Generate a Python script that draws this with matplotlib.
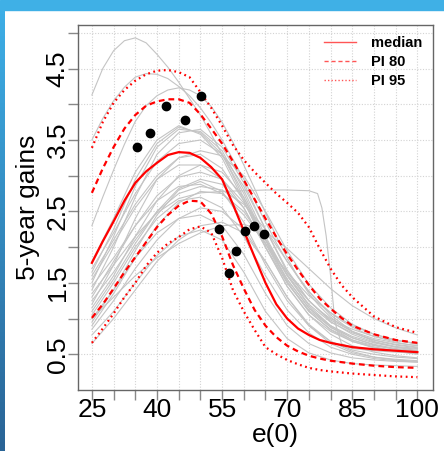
import matplotlib
matplotlib.use("Agg")
import matplotlib.pyplot as plt
import numpy as np
from matplotlib.lines import Line2D
from matplotlib.patches import Rectangle
from matplotlib.colors import LinearSegmentedColormap

plt.rcParams['font.family'] = ['Liberation Sans', 'DejaVu Sans']

# life expectancy grid for the projection summaries
e0_fine = [25, 27.5, 30, 32.5, 35, 37.5, 40, 42.5, 45, 47.5, 50, 52.5, 55, 57.5,
           60, 62.5, 65, 67.5, 70, 72.5, 75, 77.5, 80, 82.5, 85, 90, 95, 100]

median = [1.78, 2.08, 2.36, 2.65, 2.90, 3.06, 3.18, 3.29, 3.33, 3.32, 3.25, 3.12, 2.95, 2.60,
          2.23, 1.86, 1.50, 1.20, 1.00, 0.86, 0.77, 0.70, 0.66, 0.63, 0.60, 0.57, 0.55, 0.53]
pi80_upper = [2.76, 3.10, 3.40, 3.66, 3.85, 3.98, 4.04, 4.07, 4.07, 4.02, 3.86, 3.66, 3.45, 3.20,
              2.94, 2.67, 2.40, 2.14, 1.90, 1.68, 1.47, 1.28, 1.14, 1.01, 0.90, 0.78, 0.70, 0.66]
pi80_lower = [1.01, 1.20, 1.42, 1.65, 1.86, 2.07, 2.28, 2.45, 2.58, 2.65, 2.64, 2.47, 2.15, 1.75,
              1.42, 1.12, 0.90, 0.74, 0.62, 0.54, 0.48, 0.44, 0.41, 0.39, 0.37, 0.34, 0.32, 0.31]
pi95_upper = [3.39, 3.75, 4.02, 4.20, 4.33, 4.42, 4.47, 4.48, 4.45, 4.38, 4.17, 3.95, 3.70, 3.43,
              3.22, 3.05, 2.90, 2.75, 2.62, 2.48, 2.28, 1.98, 1.70, 1.47, 1.30, 1.03, 0.88, 0.80]
pi95_lower = [0.66, 0.86, 1.07, 1.30, 1.50, 1.74, 1.92, 2.05, 2.14, 2.25, 2.29, 2.20, 1.85, 1.40,
              1.10, 0.84, 0.60, 0.50, 0.42, 0.36, 0.31, 0.28, 0.26, 0.245, 0.23, 0.21, 0.19, 0.18]

# the few high trajectories that stand apart, read on a 2.5 step
high_e0 = [25, 27.5, 30, 32.5, 35, 37.5, 40, 42.5, 45, 47.5, 50, 52.5, 55, 57.5, 60, 62.5,
           65, 67.5, 70, 72.5, 75, 77.5, 80, 82.5, 85, 87.5, 90, 92.5, 95, 97.5, 100]
high_trajectories = [
    [4.13, 4.50, 4.75, 4.89, 4.93, 4.86, 4.70, 4.52, 4.31, 4.08, 3.85, 3.58, 3.30, 3.00, 2.69, 2.38,
     2.10, 1.84, 1.62, 1.42, 1.25, 1.11, 1.00, 0.92, 0.85, 0.80, 0.75, 0.72, 0.69, 0.67, 0.65],
    [3.50, 3.80, 4.05, 4.24, 4.38, 4.43, 4.42, 4.36, 4.25, 4.12, 3.95, 3.74, 3.50, 3.23, 2.95, 2.65,
     2.35, 2.06, 1.80, 1.58, 1.38, 1.22, 1.08, 0.97, 0.88, 0.81, 0.75, 0.71, 0.67, 0.64, 0.62],
    [2.30, 2.70, 3.08, 3.44, 3.76, 3.98, 4.12, 4.20, 4.23, 4.20, 4.12, 3.97, 3.75, 3.47, 3.15, 2.82,
     2.48, 2.15, 1.85, 1.58, 1.35, 1.17, 1.02, 0.91, 0.82, 0.75, 0.70, 0.66, 0.63, 0.61, 0.59],
]

# the bulk of the sampled trajectories (grey), read on a 5 step
traj_e0 = [25, 30, 35, 40, 45, 50, 55, 60, 65, 70, 75, 80, 85, 90, 95, 100]
trajectories = [
    [1.65, 2.25, 2.95, 3.45, 3.68, 3.60, 3.30, 2.75, 2.10, 1.55, 1.15, 0.90, 0.75, 0.66, 0.60, 0.57],
    [1.50, 2.15, 2.85, 3.40, 3.65, 3.62, 3.35, 2.80, 2.15, 1.60, 1.20, 0.95, 0.80, 0.70, 0.64, 0.60],
    [1.80, 2.40, 3.05, 3.50, 3.70, 3.58, 3.25, 2.65, 2.00, 1.45, 1.05, 0.82, 0.68, 0.60, 0.55, 0.52],
    [1.40, 2.00, 2.70, 3.30, 3.60, 3.65, 3.40, 2.90, 2.25, 1.65, 1.25, 0.98, 0.82, 0.72, 0.66, 0.62],
    [1.20, 1.75, 2.40, 2.95, 3.25, 3.30, 3.10, 2.65, 2.05, 1.50, 1.10, 0.85, 0.70, 0.62, 0.57, 0.54],
    [1.55, 2.05, 2.55, 2.95, 3.15, 3.15, 2.95, 2.55, 2.00, 1.50, 1.12, 0.88, 0.73, 0.64, 0.58, 0.55],
    [1.30, 1.80, 2.30, 2.72, 2.98, 3.05, 2.95, 2.62, 2.12, 1.60, 1.18, 0.90, 0.73, 0.63, 0.57, 0.53],
    [1.10, 1.55, 2.05, 2.50, 2.82, 2.95, 2.88, 2.55, 2.00, 1.45, 1.05, 0.78, 0.62, 0.53, 0.48, 0.45],
    [0.95, 1.40, 1.95, 2.45, 2.80, 2.92, 2.78, 2.35, 1.75, 1.25, 0.90, 0.68, 0.56, 0.50, 0.46, 0.44],
    [1.25, 1.65, 2.10, 2.50, 2.75, 2.85, 2.80, 2.60, 2.25, 1.80, 1.38, 1.05, 0.82, 0.68, 0.60, 0.55],
    [0.85, 1.25, 1.70, 2.10, 2.40, 2.55, 2.50, 2.25, 1.80, 1.30, 0.92, 0.68, 0.54, 0.46, 0.42, 0.40],
    [0.77, 1.10, 1.50, 1.88, 2.15, 2.24, 2.10, 1.65, 1.10, 0.72, 0.52, 0.42, 0.37, 0.35, 0.34, 0.33],
    [1.00, 1.40, 1.85, 2.20, 2.40, 2.45, 2.30, 1.90, 1.35, 0.90, 0.65, 0.52, 0.45, 0.42, 0.40, 0.39],
    [1.00, 1.30, 1.60, 1.85, 2.05, 2.20, 2.30, 2.32, 2.22, 1.98, 1.70, 1.42, 1.18, 1.00, 0.87, 0.77],
    [0.65, 1.00, 1.40, 1.80, 2.10, 2.30, 2.35, 2.20, 1.80, 1.30, 0.90, 0.65, 0.52, 0.46, 0.43, 0.41],
    [1.60, 2.10, 2.60, 3.00, 3.25, 3.35, 3.28, 3.00, 2.50, 1.95, 1.48, 1.15, 0.92, 0.78, 0.70, 0.64],
    [1.15, 1.60, 2.15, 2.65, 3.00, 3.15, 3.05, 2.70, 2.10, 1.52, 1.10, 0.84, 0.68, 0.59, 0.54, 0.51],
    [1.70, 2.20, 2.75, 3.20, 3.45, 3.50, 3.30, 2.85, 2.25, 1.68, 1.25, 0.96, 0.78, 0.67, 0.61, 0.58],
    [0.90, 1.35, 1.85, 2.30, 2.62, 2.78, 2.75, 2.50, 2.05, 1.55, 1.15, 0.88, 0.70, 0.60, 0.54, 0.50],
    [1.45, 1.85, 2.30, 2.65, 2.85, 2.88, 2.75, 2.45, 2.05, 1.65, 1.32, 1.08, 0.90, 0.78, 0.70, 0.65],
    [1.05, 1.50, 2.00, 2.40, 2.65, 2.70, 2.55, 2.15, 1.60, 1.12, 0.80, 0.60, 0.50, 0.44, 0.41, 0.39],
]
# one trajectory with a long plateau and a sharp drop
plateau_e0 = [25, 30, 35, 40, 45, 50, 55, 60, 65, 70, 75, 77, 78, 79, 80, 81, 82.5, 85, 90, 95, 100]
plateau_gain = [1.35, 1.75, 2.15, 2.48, 2.68, 2.76, 2.78, 2.79, 2.80, 2.80, 2.79, 2.75, 2.55, 2.15,
                1.60, 0.95, 0.65, 0.58, 0.55, 0.53, 0.52]

# observed 5-year gains
obs_e0 = [35.3, 38.5, 42.1, 46.4, 50.1, 54.3, 56.6, 58.1, 60.2, 62.3, 64.6]
obs_gain = [3.40, 3.60, 3.98, 3.78, 4.12, 2.26, 1.64, 1.95, 2.23, 2.30, 2.19]

W, H = 444, 451
fig = plt.figure(figsize=(W / 100, H / 100), dpi=100)


def px_rect(x0, y0, x1, y1):
    return [x0 / W, 1 - y1 / H, (x1 - x0) / W, (y1 - y0) / H]


# slide frame: blue bar at top, gradient strip on the left
fig.patches.append(Rectangle((0, 1 - 10 / H), 1, 10 / H, transform=fig.transFigure,
                             color='#3fb0e6', zorder=0))
strip = fig.add_axes(px_rect(0, 10, 4, H))
cmap = LinearSegmentedColormap.from_list('strip', ['#3daee6', '#2a6496'])
strip.imshow(np.linspace(0, 1, 100).reshape(-1, 1), aspect='auto', cmap=cmap)
strip.axis('off')

ax = fig.add_axes(px_rect(78, 25, 433, 390))

grey = '#c4c4c4'
for g in trajectories:
    ax.plot(traj_e0, g, color=grey, lw=0.8, zorder=2)
for g in high_trajectories:
    ax.plot(high_e0, g, color=grey, lw=0.8, zorder=2)
ax.plot(plateau_e0, plateau_gain, color=grey, lw=0.8, zorder=2)

ax.plot(e0_fine, median, color='red', lw=1.6, zorder=3)
for band in (pi80_upper, pi80_lower):
    ax.plot(e0_fine, band, color='red', lw=1.6, dashes=(2.6, 1.8), zorder=3)
for band in (pi95_upper, pi95_lower):
    ax.plot(e0_fine, band, color='red', lw=1.6, dashes=(0.8, 1.6), zorder=3)

ax.plot(obs_e0, obs_gain, 'o', color='black', ms=6, zorder=4)

ax.set_xlim(21.8, 103.6)
ax.set_ylim(0.0, 5.11)

# dotted grid
for gx in range(25, 101, 5):
    ax.axvline(gx, color='#d3d3d3', lw=0.8, ls=(0, (1, 1.5)), zorder=1)
for gy in np.arange(0.5, 5.01, 0.5):
    ax.axhline(gy, color='#d3d3d3', lw=0.8, ls=(0, (1, 1.5)), zorder=1)

x_labels = [25, 40, 55, 70, 85, 100]
ax.set_xticks(x_labels)
ax.set_xticklabels([str(v) for v in x_labels], fontsize=19)
ax.set_xticks([v for v in range(25, 101, 5) if v not in x_labels], minor=True)
ax.set_yticks([0.5, 1.5, 2.5, 3.5, 4.5])
ax.set_yticklabels(['0.5', '1.5', '2.5', '3.5', '4.5'], fontsize=19, rotation=90, va='center')
ax.set_yticks([1.0, 2.0, 3.0, 4.0, 5.0], minor=True)
ax.tick_params(axis='both', which='both', length=7, width=1, color='#888888')
ax.tick_params(axis='x', which='major', pad=-1)
ax.tick_params(axis='y', which='major', pad=-1)
for sp in ax.spines.values():
    sp.set_color('#666666')
    sp.set_linewidth(1)

fig.text(275 / W, 1 - 435 / H, 'e(0)', fontsize=19, ha='center', va='center')
fig.text(28 / W, 1 - 207 / H, '5-year gains', fontsize=19, ha='center', va='center', rotation=90)

handles = [Line2D([], [], color='#ff5555', lw=1),
           Line2D([], [], color='#ff5555', lw=1, dashes=(3, 2)),
           Line2D([], [], color='#ff5555', lw=1, dashes=(1, 1.5))]
ax.legend(handles, ['median', 'PI 80', 'PI 95'], loc='upper right', frameon=False,
          prop={'weight': 'bold', 'size': 10.5}, handlelength=2.2, handletextpad=1.0,
          labelspacing=0.35, borderaxespad=0.35)

fig.savefig('out.png', dpi=100)
